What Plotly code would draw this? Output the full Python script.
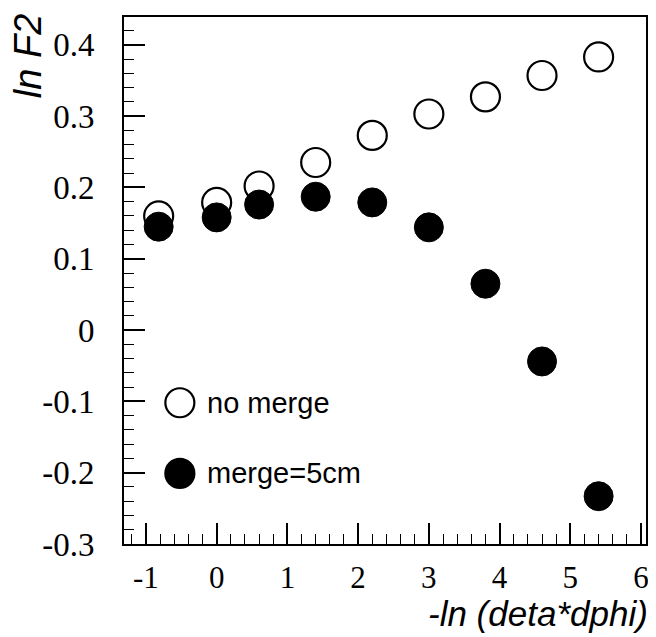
import plotly.graph_objects as go

x_vals = [-0.82, 0.0, 0.6, 1.4, 2.2, 3.0, 3.8, 4.6, 5.4]
no_merge = [0.160, 0.179, 0.202, 0.235, 0.273, 0.303, 0.327, 0.357, 0.383]
merge_5cm = [0.145, 0.158, 0.176, 0.187, 0.179, 0.144, 0.065, -0.044, -0.233]
x_ticks = [-1, 0, 1, 2, 3, 4, 5, 6]
x_tick_text = ["-1", "0", "1", "2", "3", "4", "5", "6"]
y_ticks = [-0.3, -0.2, -0.1, 0, 0.1, 0.2, 0.3, 0.4]
y_tick_text = ["-0.3", "-0.2", "-0.1", "0", "0.1", "0.2", "0.3", "0.4"]
series_names = ["no merge", "merge=5cm"]

fig = go.Figure()
fig.add_trace(go.Scatter(x=x_vals, y=no_merge, mode="markers", name=series_names[0],
                         marker=dict(symbol="circle", size=29, color="white",
                                     line=dict(color="black", width=2.2))))
fig.add_trace(go.Scatter(x=x_vals, y=merge_5cm, mode="markers", name=series_names[1],
                         marker=dict(symbol="circle", size=29, color="black",
                                     line=dict(color="black", width=1))))

tickfont = dict(family="Liberation Serif", size=33, color="black")
xtickfont = dict(family="Liberation Serif", size=31, color="black")
fig.update_layout(
    width=648, height=629,
    margin=dict(l=116, r=8, t=7, b=93),
    plot_bgcolor="white", paper_bgcolor="white",
    showlegend=False,
    xaxis=dict(range=[-1.31, 6.07], tickvals=x_ticks, ticktext=x_tick_text,
               ticks="inside", ticklen=21,
               tickwidth=1.6, tickcolor="black", showline=True, linecolor="black",
               linewidth=2, mirror=True, showgrid=False, zeroline=False,
               tickfont=xtickfont, ticklabelstandoff=5,
               minor=dict(dtick=0.2, ticks="inside", ticklen=10, tickwidth=1.4,
                          tickcolor="black", showgrid=False)),
    yaxis=dict(range=[-0.3, 0.439], tickvals=y_ticks, ticktext=y_tick_text,
               ticks="inside", ticklen=21, tickwidth=1.6, tickcolor="black",
               showline=True, linecolor="black", linewidth=2, mirror=True,
               showgrid=False, zeroline=False, tickfont=tickfont,
               ticklabelstandoff=21,
               minor=dict(dtick=0.02, ticks="inside", ticklen=10, tickwidth=1.4,
                          tickcolor="black", showgrid=False)),
)

# axis titles
fig.add_annotation(text="<i>-ln (deta*dphi)</i>", xref="paper", yref="paper",
                   x=1.0, y=-0.132, xanchor="right", yanchor="middle", showarrow=False,
                   xshift=4,
                   font=dict(family="Liberation Sans", size=35, color="black"))
fig.add_annotation(text="<i>ln F2</i>", xref="paper", yref="paper",
                   x=-0.185, y=1.01, xanchor="center", yanchor="top", showarrow=False,
                   textangle=-90,
                   font=dict(family="Liberation Sans", size=38, color="black"))

# legend keys
legend_items = [(series_names[0], "white", 0.268), (series_names[1], "black", 0.134)]
for label, fill, ypos in legend_items:
    fig.add_shape(type="circle", xref="paper", yref="paper", xsizemode="pixel",
                  ysizemode="pixel", xanchor=0.107, yanchor=ypos,
                  x0=-14.5, x1=14.5, y0=-14.5, y1=14.5,
                  fillcolor=fill, line=dict(color="black", width=2.2))
    fig.add_annotation(text=label, xref="paper", yref="paper", x=0.155, y=ypos,
                       xanchor="left", yanchor="middle", showarrow=False,
                       font=dict(family="Liberation Sans", size=29, color="black"))

fig.write_html("out.html")
